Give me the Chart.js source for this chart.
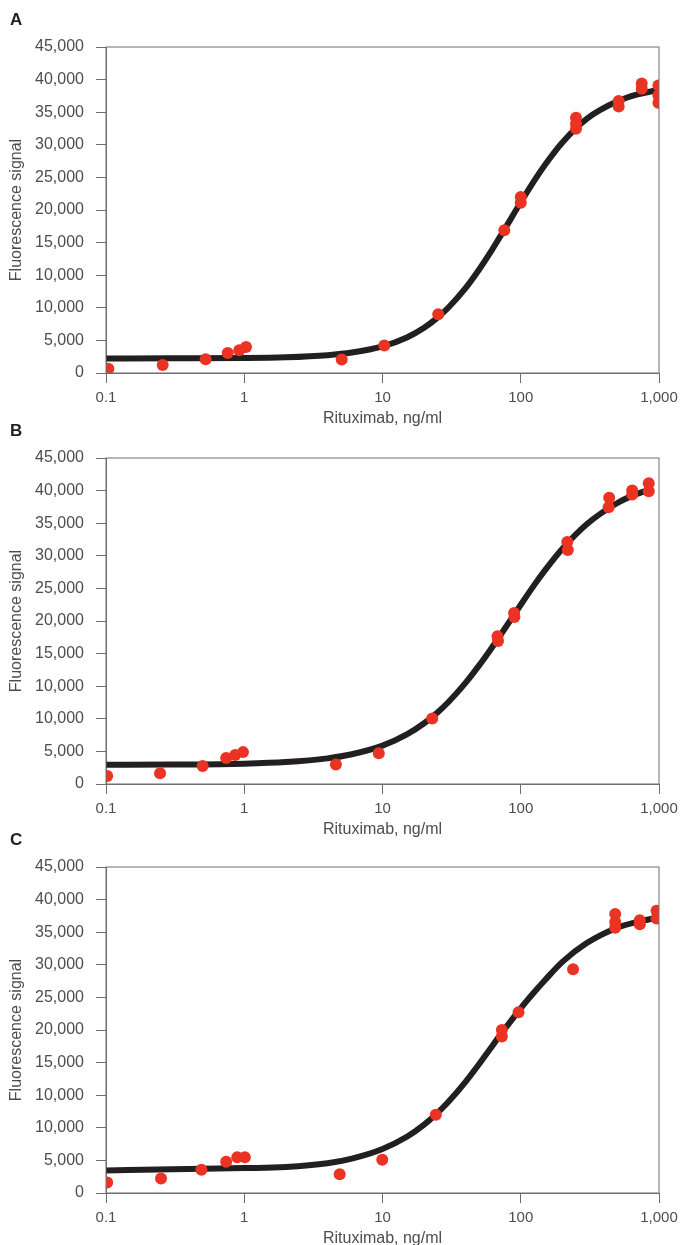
<!DOCTYPE html>
<html>
<head>
<meta charset="utf-8">
<script src="https://cdn.jsdelivr.net/npm/chart.js@4.4.1/dist/chart.umd.min.js"></script>
<style>
  body { margin: 0; width: 684px; height: 1245px; overflow: hidden; background: #fff; position: relative; }
  .panel { position: absolute; left: 0; width: 684px; height: 430px; }
  .panel canvas { position: absolute; left: 0; top: 0; }
  .letter { position: absolute; left: 10px; top: 10px; font: bold 17px "Liberation Sans", Arial, sans-serif; color: #231f20; line-height: 20px; }
</style>
</head>
<body>
<div class="panel" style="top:0px"><canvas id="chartA" width="684" height="430"></canvas><div class="letter">A</div></div>
<div class="panel" style="top:411px"><canvas id="chartB" width="684" height="430"></canvas><div class="letter">B</div></div>
<div class="panel" style="top:820px"><canvas id="chartC" width="684" height="430"></canvas><div class="letter">C</div></div>
<script>
// axis ticks as printed (the y labels repeat 10,000 in the original)
const xTicks = [0.1, 1, 10, 100, 1000];
const xTickLabels = ["0.1", "1", "10", "100", "1,000"];
const yTickLabels = ["0", "5,000", "10,000", "10,000", "15,000", "20,000", "25,000", "30,000", "35,000", "40,000", "45,000"];

// panel A
const aDose = [0.104, 0.257, 0.526, 0.759, 0.92, 1.03, 5.07, 10.3, 25.3, 76, 100, 100, 251, 251, 251, 511, 511, 750, 750, 990, 990, 990];
const aSignal = [600, 1100, 1900, 2750, 3150, 3600, 1850, 3800, 8100, 19700, 24300, 23500, 35250, 34400, 33700, 37550, 36800, 39950, 39250, 39700, 38300, 37300];
const aFitDose = [0.1, 0.3, 1, 2, 4, 6, 10, 15, 20, 25, 30, 40, 50, 60, 70, 85, 100, 125, 150, 200, 300, 500, 700, 1000];
const aFitSignal = [2000, 2020, 2060, 2170, 2460, 2820, 3670, 4910, 6250, 7640, 9040, 11740, 14280, 16570, 18650, 21310, 23570, 26530, 28760, 31830, 35080, 37500, 38450, 39100];

// panel B
const bDose = [0.102, 0.246, 0.5, 0.74, 0.86, 0.98, 4.6, 9.4, 22.9, 67.9, 68.5, 89.5, 90, 217, 219, 436, 432, 640, 640, 843, 843];
const bSignal = [1100, 1500, 2500, 3600, 4000, 4400, 2700, 4250, 9050, 20400, 19750, 23600, 23050, 33400, 32300, 39500, 38200, 40500, 39950, 41500, 40400];
const bFitDose = [0.1, 0.3, 1, 2, 4, 6, 10, 15, 20, 25, 30, 40, 50, 60, 70, 85, 100, 125, 150, 200, 300, 500, 700, 880];
const bFitSignal = [2660, 2690, 2810, 3030, 3540, 4100, 5290, 6840, 8380, 9880, 11320, 13990, 16370, 18470, 20330, 22730, 24740, 27450, 29520, 32480, 35860, 38790, 40080, 40700];

// panel C
const cDose = [0.102, 0.25, 0.49, 0.74, 0.89, 1.01, 4.9, 9.96, 24.3, 73, 73, 96.4, 239, 482, 482, 482, 726, 726, 960, 960];
const cSignal = [1450, 2000, 3200, 4300, 4950, 4950, 2600, 4600, 10800, 22500, 21600, 24950, 30900, 38500, 37400, 36600, 37650, 37100, 38950, 37900];
const cFitDose = [0.1, 0.3, 1, 2, 4, 6, 10, 15, 20, 25, 30, 40, 50, 60, 70, 85, 100, 125, 150, 200, 300, 500, 700, 1000];
const cFitSignal = [3100, 3280, 3440, 3580, 4100, 4750, 6080, 7760, 9440, 11060, 12590, 15380, 17800, 19870, 21660, 23750, 25500, 27700, 29400, 31900, 34500, 36620, 37420, 38050];

const textColor = "#4d4d4f";
const axisColor = "#6d6e71";
const font = "'Liberation Sans', Arial, sans-serif";

const boxBorder = {
  id: "boxBorder",
  afterDatasetsDraw(chart) {
    const a = chart.chartArea;
    const ctx = chart.ctx;
    ctx.save();
    ctx.strokeStyle = axisColor;
    ctx.lineWidth = 1;
    ctx.strokeRect(a.left, a.top, a.right - a.left, a.bottom - a.top);
    ctx.restore();
  }
};

function makePanel(id, dose, signal, fitDose, fitSignal) {
  new Chart(document.getElementById(id), {
    type: "scatter",
    data: {
      datasets: [
        {
          data: dose.map((x, i) => ({ x, y: signal[i] })),
          backgroundColor: "#eb3324",
          borderWidth: 0,
          pointRadius: 6,
          pointHoverRadius: 6,
          clip: 0
        },
        {
          type: "line",
          data: fitDose.map((x, i) => ({ x, y: fitSignal[i] })),
          borderColor: "#231f20",
          borderWidth: 6,
          pointRadius: 0,
          cubicInterpolationMode: "monotone",
          fill: false,
          clip: 0
        }
      ]
    },
    options: {
      responsive: false,
      animation: false,
      layout: { padding: { top: 47, right: 25, bottom: 0, left: 0 } },
      plugins: { legend: { display: false }, tooltip: { enabled: false } },
      scales: {
        x: {
          type: "logarithmic",
          min: 0.1,
          max: 1000,
          afterBuildTicks: scale => { scale.ticks = xTicks.map(v => ({ value: v })); },
          afterFit: scale => { scale.height = 57; },
          ticks: {
            autoSkip: false,
            maxRotation: 0,
            padding: 6,
            color: textColor,
            font: { family: font, size: 15 },
            callback: (v, i) => xTickLabels[i]
          },
          grid: { drawOnChartArea: false, color: axisColor, tickLength: 10 },
          border: { color: axisColor },
          title: {
            display: true,
            text: "Rituximab, ng/ml",
            color: textColor,
            font: { family: font, size: 16 },
            padding: { top: 0, bottom: 2 }
          }
        },
        y: {
          min: 0,
          max: 45000,
          afterFit: scale => { scale.width = 106; },
          ticks: {
            stepSize: 4500,
            padding: 12,
            color: textColor,
            font: { family: font, size: 16 },
            callback: (v, i) => yTickLabels[i]
          },
          grid: { drawOnChartArea: false, color: axisColor, tickLength: 10 },
          border: { color: axisColor },
          title: {
            display: true,
            text: "Fluorescence signal",
            color: textColor,
            font: { family: font, size: 16 },
            padding: { top: 7, bottom: 0 }
          }
        }
      }
    },
    plugins: [boxBorder]
  });
}

makePanel("chartA", aDose, aSignal, aFitDose, aFitSignal);
makePanel("chartB", bDose, bSignal, bFitDose, bFitSignal);
makePanel("chartC", cDose, cSignal, cFitDose, cFitSignal);
</script>
</body>
</html>
